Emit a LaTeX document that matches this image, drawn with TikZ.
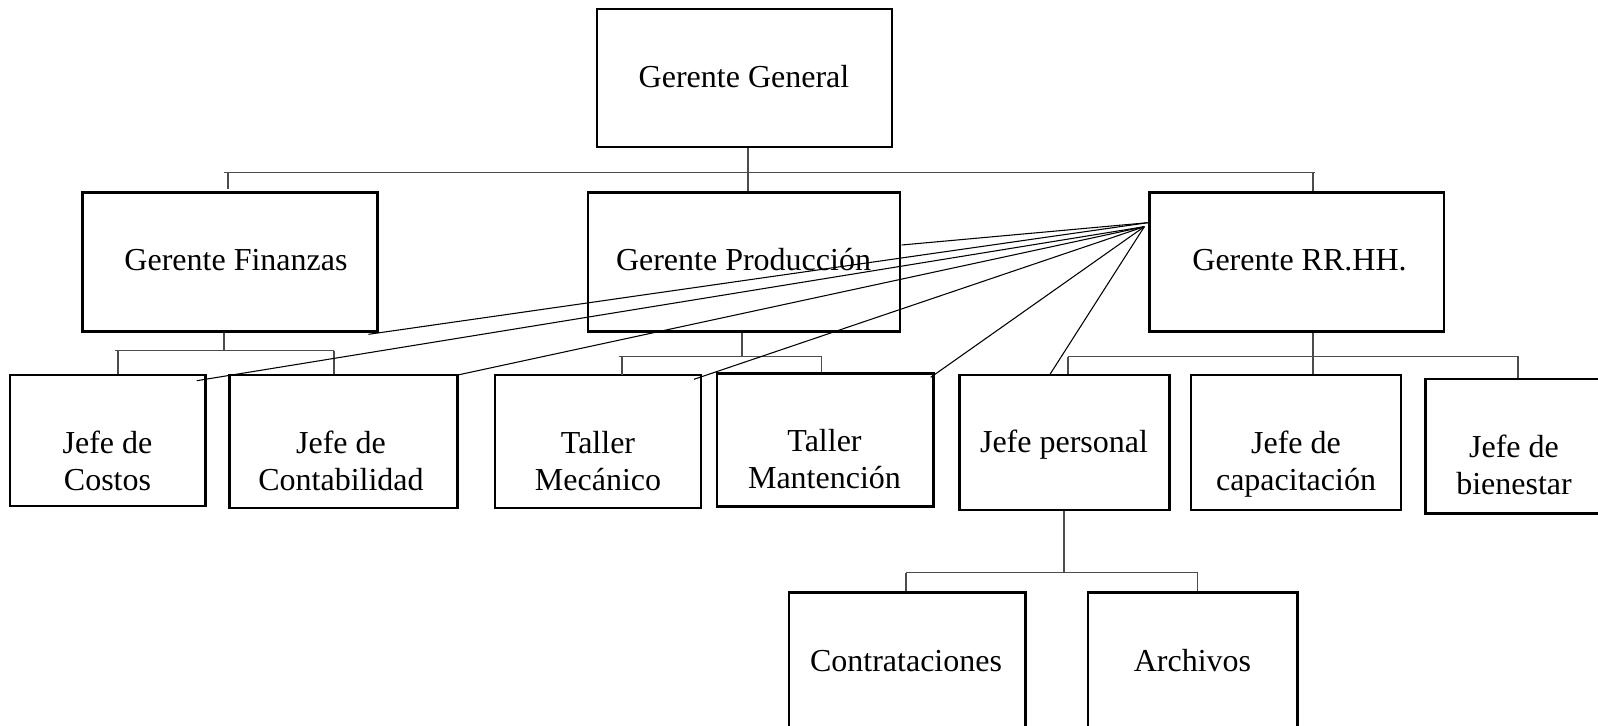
\documentclass[tikz,border=0pt]{standalone}
\usepackage{fontspec}
\setmainfont{Liberation Serif}
\usetikzlibrary{fit}
\tikzset{
  box/.style={draw=black, line width=2pt, inner sep=0pt},
  txt/.style={inner sep=0pt, align=center, font=\fontsize{24pt}{28pt}\selectfont},
  conn/.style={draw=black!70, line width=1pt},
  diag/.style={draw=black, line width=0.8pt},
}
\begin{document}
\begin{tikzpicture}[x=0.75pt, y=-0.75pt]
\useasboundingbox (0,0) rectangle (1598,725);
\clip (0,0) rectangle (1598,725);
% boxes
\node[box, fit={(597,9) (892,147)}] (gg) {};
\node[box, fit={(82.5,192.5) (377.5,331.5)}] (fin) {};
\node[box, fit={(588,192.5) (900,331.5)}] (prod) {};
\node[box, fit={(1149.5,192.5) (1444,331.5)}] (rrhh) {};
\node[box, fit={(10,375) (205.7,506)}] (costos) {};
\node[box, fit={(229.3,375) (457.5,508)}] (conta) {};
\node[box, fit={(495,375) (701,508)}] (mec) {};
\node[box, fit={(717,373.3) (933.3,506.5)}] (mant) {};
\node[box, fit={(959.3,375) (1169.5,510)}] (pers) {};
\node[box, fit={(1191,375) (1401,510)}] (cap) {};
\node[box, fit={(1425.5,379) (1610,513.3)}] (bien) {};
\node[box, fit={(789,592.7) (1025.7,745)}] (contr) {};
\node[box, fit={(1088,592.7) (1297.7,745)}] (arch) {};
% texts
\node[txt, anchor=base] (tgg) at (744,87.3) {Gerente General};
\node[txt, anchor=base] (tfin) at (236,270.7) {Gerente Finanzas};
\node[txt, anchor=base] (tprod) at (743.5,270.7) {Gerente Producción};
\node[txt, anchor=base] (trrhh) at (1299.5,270.7) {Gerente RR.HH.};
\node[txt, anchor=north] (tcostos) at (107.5,426.6) {\strut Jefe de\\Costos};
\node[txt, anchor=north] (tconta) at (341,426.6) {\strut Jefe de\\Contabilidad};
\node[txt, anchor=north] (tmec) at (598,426.6) {\strut Taller\\Mecánico};
\node[txt, anchor=north] (tmant) at (824.5,424.9) {\strut Taller\\Mantención};
\node[txt, anchor=base] (tpers) at (1064,452.7) {Jefe personal};
\node[txt, anchor=north] (tcap) at (1296,426.6) {\strut Jefe de\\capacitación};
\node[txt, anchor=north] (tbien) at (1514,430.6) {\strut Jefe de\\bienestar};
\node[txt, anchor=base] (tcontr) at (906,671.7) {Contrataciones};
\node[txt, anchor=base] (tarch) at (1192.5,671.7) {Archivos};
% bus coordinates
\coordinate (busL) at (224,172.7);
\coordinate (busR) at (1314.6,172.7);
\coordinate (finbusL) at (115,350.7);
\coordinate (finbusR) at (334,350.7);
\coordinate (prodbusL) at (618.5,356.7);
\coordinate (prodbusR) at (821.8,356.7);
\coordinate (rrhhbusL) at (1068,356.7);
\coordinate (rrhhbusR) at (1519,356.7);
\coordinate (persbusL) at (906,572.7);
\coordinate (persbusR) at (1197.5,572.7);
% org connectors
\draw[conn] (gg.south -| 748,0) -- (prod.north -| 748,0);
\draw[conn] (busL) -- (busR);
\draw[conn] (busL -| 228,0) -- (228,188.5);
\draw[conn] (busR -| 1313,0) -- (1313,190.5);
\draw[conn] (fin.south -| 224,0) -- (finbusL -| 224,0);
\draw[conn] (finbusL) -- (finbusR);
\draw[conn] (finbusL -| 118,0) -- (costos.north -| 118,0);
\draw[conn] (finbusR) -- (conta.north -| finbusR);
\draw[conn] (prod.south -| 742,0) -- (prodbusL -| 742,0);
\draw[conn] (prodbusL) -- (prodbusR);
\draw[conn] (prodbusL -| 622,0) -- (622,375);
\draw[conn] (prodbusR) -- (mant.north -| prodbusR);
\draw[conn] (rrhh.south -| 1313,0) -- (cap.north -| 1313,0);
\draw[conn] (rrhhbusL) -- (rrhhbusR);
\draw[conn] (rrhhbusL) -- (pers.north -| rrhhbusL);
\draw[conn] (rrhhbusR -| 1518,0) -- (bien.north -| 1518,0);
\draw[conn] (pers.south -| 1064,0) -- (persbusL -| 1064,0);
\draw[conn] (persbusL) -- (persbusR);
\draw[conn] (persbusL) -- (contr.north -| persbusL);
\draw[conn] (persbusR) -- (arch.north -| persbusR);
% diagonal lines
\coordinate (hubA) at (1147.7,222.7);
\coordinate (hub) at (1144.3,226.7);
\coordinate (eA) at (901.7,245);
\coordinate (eB) at (368.5,334.3);
\coordinate (eC) at (196.7,380.7);
\coordinate (eD) at (457.7,375);
\coordinate (eE) at (694,379.3);
\coordinate (eF) at (930.7,377.3);
\coordinate (eG) at (1050,374.3);
\draw[diag] (hubA) -- (eA);
\draw[diag] (hubA) -- (eB);
\draw[diag] (hub) -- (eC);
\draw[diag] (hub) -- (eD);
\draw[diag] (hub) -- (eE);
\draw[diag] (hub) -- (eF);
\draw[diag] (hub) -- (eG);
\end{tikzpicture}
\end{document}
